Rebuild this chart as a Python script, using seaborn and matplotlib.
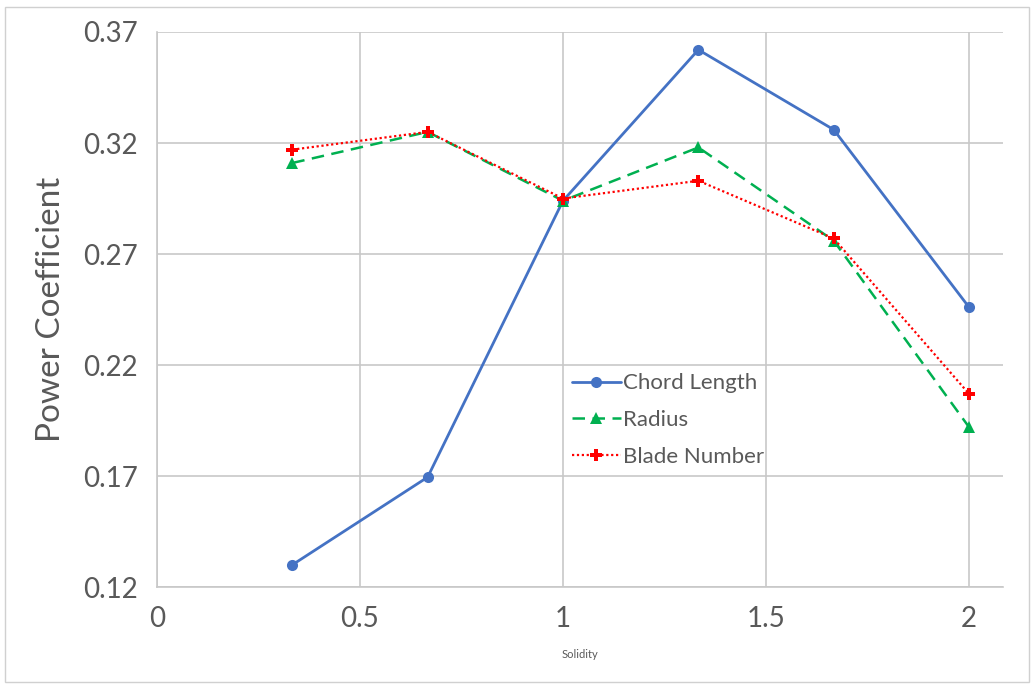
import matplotlib
matplotlib.use("Agg")
import matplotlib.pyplot as plt
import seaborn as sns
import pandas as pd

solidity = [1/3, 2/3, 1.0, 4/3, 5/3, 2.0]
chord_length = [0.130, 0.1695, 0.294, 0.362, 0.326, 0.246]
radius = [0.311, 0.325, 0.294, 0.318, 0.276, 0.192]
blade_number = [0.317, 0.325, 0.295, 0.303, 0.277, 0.207]
series_names = ["Chord Length", "Radius", "Blade Number"]
x_ticks = [0, 0.5, 1, 1.5, 2]
y_ticks = [0.12, 0.17, 0.22, 0.27, 0.32, 0.37]

sns.set_theme(style="white")
plt.rcParams['font.family'] = ['Lato', 'DejaVu Sans']

fig = plt.figure(figsize=(10.34, 6.85), dpi=100)
ax = fig.add_axes([0.1518, 0.143, 0.818, 0.8103])

styles = [
    dict(color="#4472C4", linestyle="-", marker="o", markersize=8, lw=2),
    dict(color="#00B050", linestyle=(0, (5, 3)), marker="^", markersize=9, lw=1.8),
    dict(color="#FF0000", linestyle=(0, (1, 1.2)), marker="P", markersize=9, lw=1.6),
]
for name, vals, st in zip(series_names, [chord_length, radius, blade_number], styles):
    df = pd.DataFrame({"x": solidity, "y": vals})
    sns.lineplot(data=df, x="x", y="y", ax=ax, label=name,
                 color=st["color"], linestyle=st["linestyle"], marker=st["marker"],
                 markersize=st["markersize"], linewidth=st["lw"],
                 markeredgecolor=st["color"], markeredgewidth=0)

ax.set_xlim(0, 2.083)
ax.set_ylim(0.12, 0.37)
ax.set_xticks(x_ticks)
ax.set_xticklabels(["0", "0.5", "1", "1.5", "2"])
ax.set_yticks(y_ticks)
ax.set_yticklabels([f"{v:.2f}" for v in y_ticks])
ax.grid(True, color="#C8C8C8", linewidth=1.2)
for s in ["top", "right"]:
    ax.spines[s].set_visible(False)
for s in ["left", "bottom"]:
    ax.spines[s].set_color("#C8C8C8")
    ax.spines[s].set_linewidth(1.2)
ax.tick_params(axis="both", labelsize=20, labelcolor="#595959", length=0, pad=14)
ax.set_xlabel("Solidity", fontsize=8, color="#595959", labelpad=12)
ax.set_ylabel("Power Coefficient", fontsize=24, color="#595959", labelpad=12)

leg = ax.legend(loc="upper left", bbox_to_anchor=(0.472, 0.413), frameon=False,
                fontsize=16, labelcolor="#595959", handlelength=2.2,
                handletextpad=0.1, labelspacing=0.75, borderpad=0.2)

fig.patches.append(plt.Rectangle((0.005, 0.005), 0.99, 0.985, transform=fig.transFigure,
                                 fill=False, edgecolor="#D0D0D0", linewidth=1))
fig.savefig("out.png", dpi=100, facecolor="white")
